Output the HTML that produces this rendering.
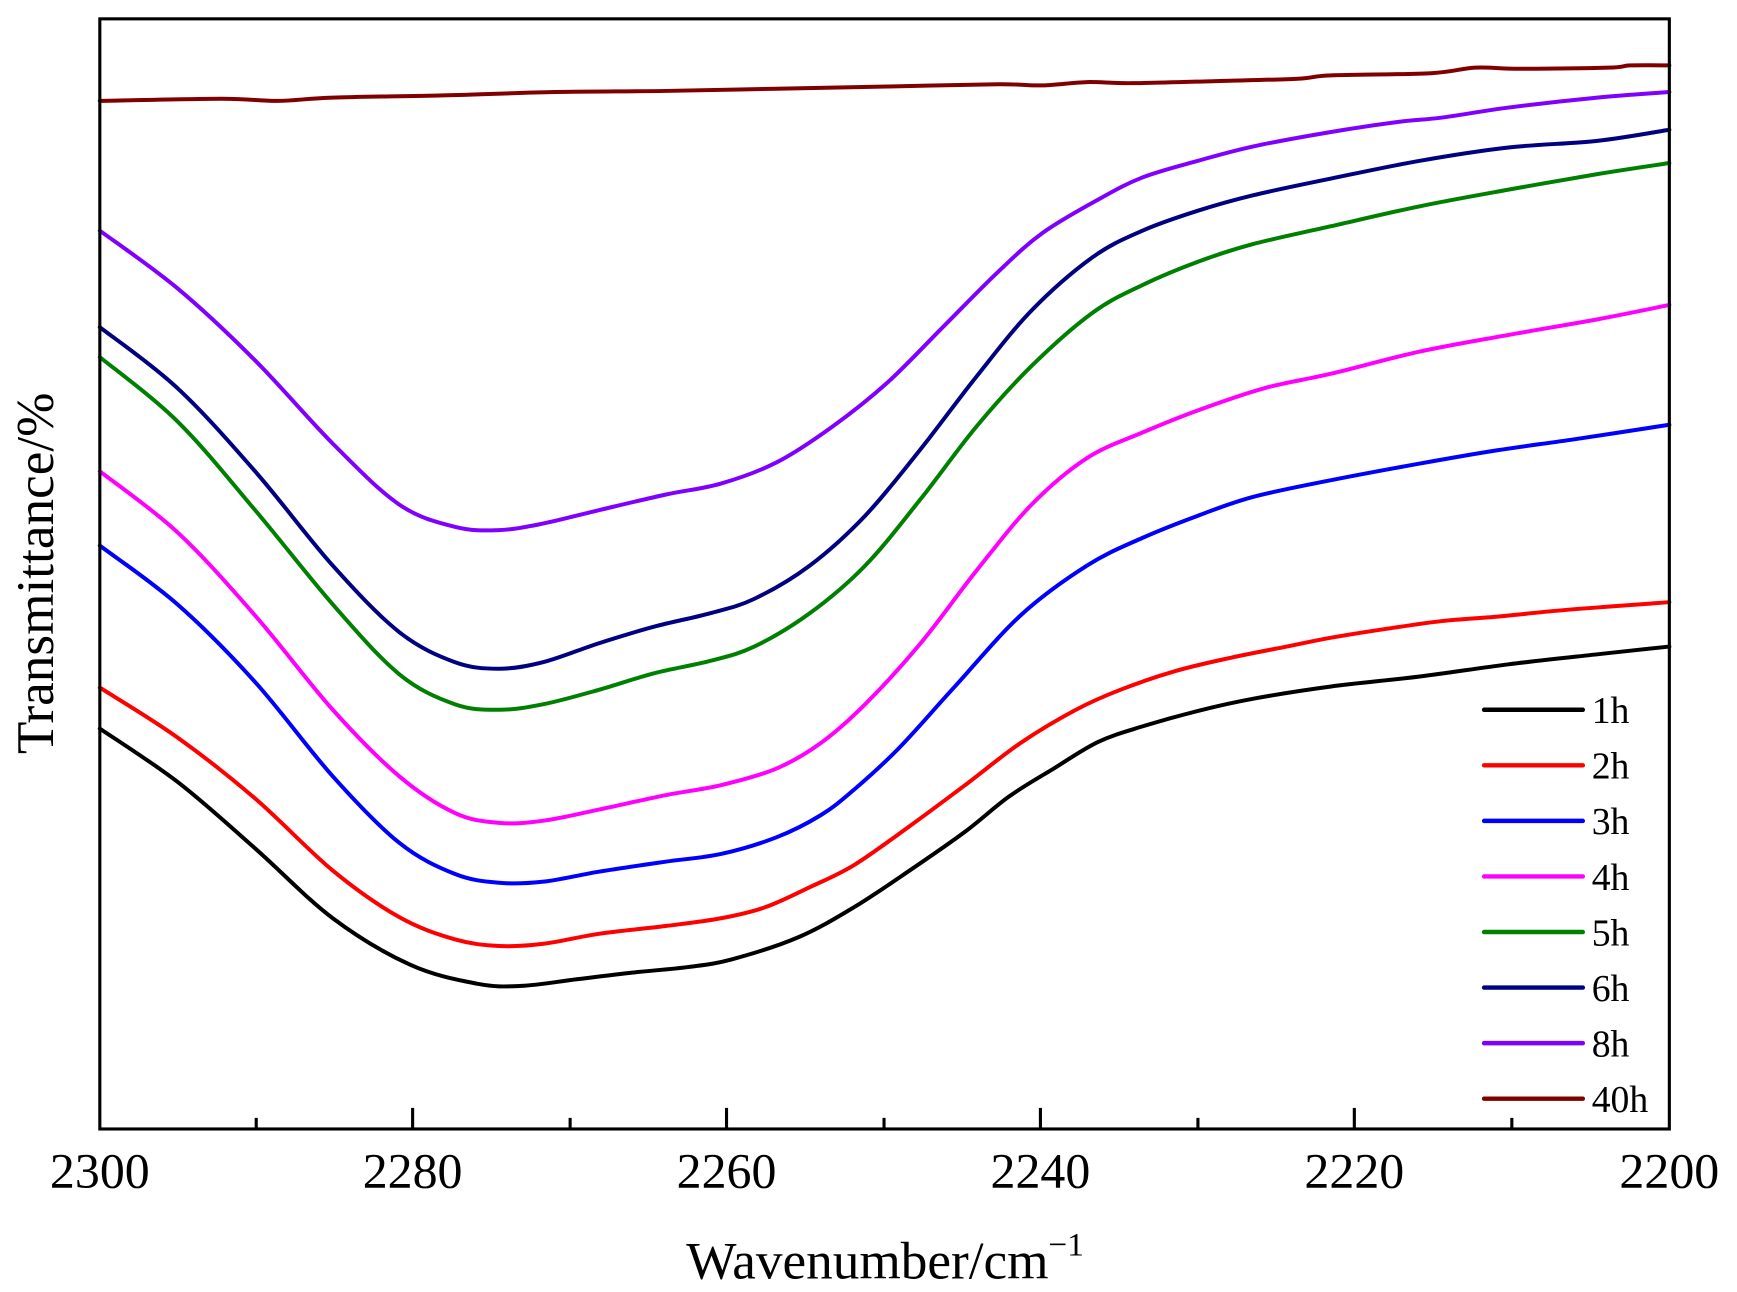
<!DOCTYPE html>
<html><head><meta charset="utf-8"><style>html,body{margin:0;padding:0;background:#fff;}svg{display:block;}</style></head>
<body>
<svg id="s" width="1737" height="1292" viewBox="0 0 1566 1165" preserveAspectRatio="none" xmlns="http://www.w3.org/2000/svg" font-family="'Liberation Serif', serif">
<g id="curves" fill="none" stroke-width="3.6" stroke-linejoin="round" stroke-linecap="round"></g>
<rect x="90" y="17" width="1415" height="1001" fill="none" stroke="#000" stroke-width="2.8"/>
<g stroke="#000" stroke-width="2.8">
<line x1="372" y1="1018" x2="372" y2="999"/><line x1="655" y1="1018" x2="655" y2="999"/><line x1="938" y1="1018" x2="938" y2="999"/><line x1="1221" y1="1018" x2="1221" y2="999"/>
<line x1="231" y1="1018" x2="231" y2="1008"/><line x1="514" y1="1018" x2="514" y2="1008"/><line x1="797" y1="1018" x2="797" y2="1008"/><line x1="1080" y1="1018" x2="1080" y2="1008"/><line x1="1363" y1="1018" x2="1363" y2="1008"/>
</g>
<g text-anchor="middle" fill="#000">
<g font-size="45">
<text x="90" y="1071">2300</text><text x="372" y="1071">2280</text><text x="655" y="1071">2260</text><text x="938" y="1071">2240</text><text x="1221" y="1071">2220</text><text x="1505" y="1071">2200</text>
</g>
<text x="798" y="1153" font-size="48">Wavenumber/cm<tspan dy="-21" font-size="30">−1</tspan></text>
<text transform="translate(48,517) rotate(-90)" font-size="48">Transmittance/%</text>
</g>
<g id="leg" font-size="34" fill="#000"></g>
</svg>
<script>
var S=[
["#000",[[90,657],[160,705],[230,765],[300,828],[370,870],[430,887],[470,889],[520,883],[570,877],[620,872],[660,865],[720,845],[770,818],[820,785],[870,750],[910,718],[950,693],[990,669],[1030,655],[1080,641],[1130,630],[1200,619],[1280,610],[1360,599],[1440,590],[1505,583]],"1h"],
["#ff0000",[[90,620],[160,665],[230,720],[300,785],[360,827],[410,847],[450,853],[490,851],[540,842],[600,835],[650,828],[690,818],[730,800],[770,780],[820,745],[870,708],[920,670],[970,640],[1010,622],[1060,605],[1110,593],[1160,583],[1200,575],[1250,567],[1300,560],[1350,556],[1400,551],[1450,547],[1505,543]],"2h"],
["#0000ff",[[90,492],[160,545],[230,615],[300,700],[360,760],[410,788],[450,796],[490,795],[540,786],[600,777],[650,770],[700,755],[740,735],[770,712],[810,675],[860,620],[920,555],[980,510],[1030,485],[1080,465],[1130,448],[1200,433],[1280,418],[1350,406],[1420,396],[1505,383]],"3h"],
["#ff00ff",[[90,425],[160,480],[230,555],[300,640],[360,700],[410,733],[450,742],[490,740],[540,730],[600,717],[650,708],[700,693],[740,670],[780,635],[830,580],[880,515],[930,455],[980,413],[1030,390],[1080,370],[1140,350],[1200,337],[1280,317],[1360,302],[1440,288],[1505,275]],"4h"],
["#008000",[[90,322],[160,380],[230,460],[300,545],[360,608],[410,635],[450,640],[490,635],[540,622],[590,607],[640,596],[680,583],[730,553],[780,510],[830,450],[880,385],[930,330],[985,282],[1030,257],[1080,236],[1130,220],[1200,204],[1280,186],[1360,171],[1440,157],[1505,147]],"5h"],
["#000080",[[90,295],[160,350],[230,425],[300,510],[360,570],[410,597],[450,603],[490,597],[540,580],[590,565],[640,553],[680,540],[730,510],[780,465],[830,405],[880,340],[930,280],[985,232],[1030,208],[1080,190],[1130,176],[1200,161],[1280,145],[1360,133],[1440,127],[1505,117]],"6h"],
["#8000ff",[[90,208],[160,260],[230,325],[300,400],[360,455],[410,475],[450,478],[490,472],[540,460],[600,446],[650,436],[700,417],[750,385],[800,345],[850,295],[900,245],[940,210],[990,180],[1030,160],[1080,145],[1130,132],[1200,119],[1260,110],[1300,106],[1360,97],[1440,88],[1505,83]],"8h"],
["#800000",[[90,91],[200,89],[250,91],[300,88],[400,86],[500,83],[600,82],[700,80],[800,78],[900,76],[940,77],[980,74],[1020,75],[1100,73],[1170,71],[1200,68],[1290,66],[1330,61],[1370,62],[1450,61],[1470,59],[1505,59]],"40h"]];
var ns="http://www.w3.org/2000/svg",g=document.getElementById("curves"),L=document.getElementById("leg");
S.forEach(function(s,k){var p=s[1],d="M"+p[0][0]+","+p[0][1];
for(var i=0;i<p.length-1;i++){var a=p[i-1]||p[i],b=p[i],c=p[i+1],e=p[i+2]||c;
d+=" C"+(b[0]+(c[0]-a[0])/6)+","+(b[1]+(c[1]-a[1])/6)+" "+(c[0]-(e[0]-b[0])/6)+","+(c[1]-(e[1]-b[1])/6)+" "+c[0]+","+c[1];}
var el=document.createElementNS(ns,"path");el.setAttribute("d",d);el.setAttribute("stroke",s[0]);g.appendChild(el);
var y=640+k*50.1;var l=document.createElementNS(ns,"line");l.setAttribute("x1",1338);l.setAttribute("x2",1427);l.setAttribute("y1",y);l.setAttribute("y2",y);l.setAttribute("stroke",s[0]);l.setAttribute("stroke-width",4);l.setAttribute("stroke-linecap","round");L.appendChild(l);
var t=document.createElementNS(ns,"text");t.setAttribute("x",1435);t.setAttribute("y",y+12);t.textContent=s[2];L.appendChild(t);});
</script>
</body></html>
